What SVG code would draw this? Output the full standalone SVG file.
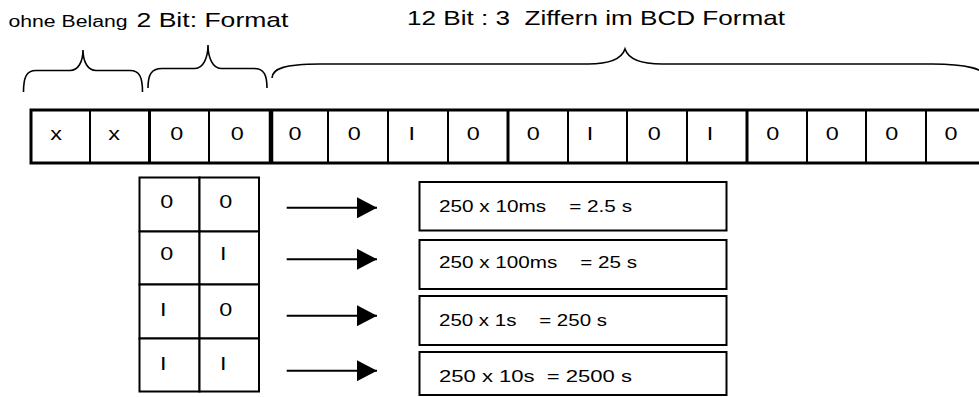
<svg xmlns="http://www.w3.org/2000/svg" width="979" height="397" viewBox="0 0 979 397">
<defs>
<style>
text{font-family:"Liberation Sans",Arial,sans-serif;fill:#000;white-space:pre}
.c{font-size:18px;text-anchor:middle}
.cell{fill:#fff;stroke:#000;stroke-width:2}
.box{fill:#fff;stroke:#000;stroke-width:2}
.brace{fill:none;stroke:#000;stroke-width:1.6}
.frame{fill:none;stroke:#000}
.arrow{stroke:#000;stroke-width:2;fill:none}
.res{font-size:16px}
</style>
<marker id="ah" markerUnits="userSpaceOnUse" markerWidth="20" markerHeight="21" refX="20" refY="10.5" orient="auto">
<path d="M0,0 L20,10.5 L0,21 Z" fill="#000"/>
</marker>
</defs>
<rect width="979" height="397" fill="#fff"/>

<g id="header-ohne-belang">
<text x="8.5" y="27" font-size="16" textLength="119" lengthAdjust="spacingAndGlyphs">ohne Belang</text>
<path class="brace" d="M23.5,92 C23.5,78 26,70.5 36,70.5 L70,70.5 C78,70.5 83,62 83,50 C83,62 88,70.5 96,70.5 L130,70.5 C140,70.5 142.5,78 142.5,92"/>
</g>
<g id="header-format">
<text x="136.5" y="27" font-size="21" textLength="152" lengthAdjust="spacingAndGlyphs">2 Bit: Format</text>
<path class="brace" d="M148,88 C148,75 151,68.5 162,68.5 L195,68.5 C203,68.5 208,58 208,45 C208,58 213,68.5 221,68.5 L254,68.5 C264,68.5 267,75 267,88"/>
</g>
<g id="header-bcd">
<text x="407" y="25" font-size="21" textLength="378" lengthAdjust="spacingAndGlyphs">12 Bit : 3  Ziffern im BCD Format</text>
<path class="brace" d="M272,78 C272,69 284,64 320,64 L588,64 C612,64 622,58 625,49 C628,58 638,64 662,64 L932,64 C966,64 986,69 986,78"/>
</g>

<g id="bit-row">
<g id="bit-15"><rect class="cell" x="31" y="110" width="59" height="53"/><text class="c" x="56" y="140" textLength="11.7" lengthAdjust="spacingAndGlyphs">x</text></g>
<g id="bit-14"><rect class="cell" x="90" y="110" width="59.5" height="53"/><text class="c" x="114" y="140" textLength="11.7" lengthAdjust="spacingAndGlyphs">x</text></g>
<g id="bit-13"><rect class="cell" x="149.5" y="110" width="59.5" height="53"/><text class="c" x="176.7" y="140" textLength="13" lengthAdjust="spacingAndGlyphs">0</text></g>
<g id="bit-12"><rect class="cell" x="209" y="110" width="62" height="53"/><text class="c" x="237.3" y="140" textLength="13" lengthAdjust="spacingAndGlyphs">0</text></g>
<g id="bit-11"><rect class="cell" x="271" y="110" width="57" height="53"/><text class="c" x="295" y="140" textLength="13" lengthAdjust="spacingAndGlyphs">0</text></g>
<g id="bit-10"><rect class="cell" x="328" y="110" width="60" height="53"/><text class="c" x="354.3" y="140" textLength="13" lengthAdjust="spacingAndGlyphs">0</text></g>
<g id="bit-9"><rect class="cell" x="388" y="110" width="60" height="53"/><text class="c" x="411.7" y="140" textLength="6.5" lengthAdjust="spacingAndGlyphs">I</text></g>
<g id="bit-8"><rect class="cell" x="448" y="110" width="60" height="53"/><text class="c" x="473.3" y="140" textLength="13" lengthAdjust="spacingAndGlyphs">0</text></g>
<g id="bit-7"><rect class="cell" x="508" y="110" width="60" height="53"/><text class="c" x="533.3" y="140" textLength="13" lengthAdjust="spacingAndGlyphs">0</text></g>
<g id="bit-6"><rect class="cell" x="568" y="110" width="59" height="53"/><text class="c" x="590" y="140" textLength="6.5" lengthAdjust="spacingAndGlyphs">I</text></g>
<g id="bit-5"><rect class="cell" x="627" y="110" width="60" height="53"/><text class="c" x="654.3" y="140" textLength="13" lengthAdjust="spacingAndGlyphs">0</text></g>
<g id="bit-4"><rect class="cell" x="687" y="110" width="60" height="53"/><text class="c" x="710" y="140" textLength="6.5" lengthAdjust="spacingAndGlyphs">I</text></g>
<g id="bit-3"><rect class="cell" x="747" y="110" width="60" height="53"/><text class="c" x="772.7" y="140" textLength="13" lengthAdjust="spacingAndGlyphs">0</text></g>
<g id="bit-2"><rect class="cell" x="807" y="110" width="59" height="53"/><text class="c" x="832.3" y="140" textLength="13" lengthAdjust="spacingAndGlyphs">0</text></g>
<g id="bit-1"><rect class="cell" x="866" y="110" width="60" height="53"/><text class="c" x="891.7" y="140" textLength="13" lengthAdjust="spacingAndGlyphs">0</text></g>
<g id="bit-0"><rect class="cell" x="926" y="110" width="60" height="53"/><text class="c" x="951" y="140" textLength="13" lengthAdjust="spacingAndGlyphs">0</text></g>
<g id="bit-row-frame">
<rect class="frame" x="31" y="110" width="960" height="53" stroke-width="3"/>
<line class="frame" x1="149.5" y1="110" x2="149.5" y2="163" stroke-width="3"/>
<line class="frame" x1="271" y1="110" x2="271" y2="163" stroke-width="4.5"/>
<line class="frame" x1="508" y1="110" x2="508" y2="163" stroke-width="3"/>
<line class="frame" x1="747" y1="110" x2="747" y2="163" stroke-width="3"/>
</g>
</g>

<g id="format-table">
<g id="fmt-00"><rect class="cell" x="139.5" y="177.5" width="60" height="54"/><rect class="cell" x="199.5" y="177.5" width="59.5" height="54"/>
<text class="c" x="166.7" y="207.5" textLength="13" lengthAdjust="spacingAndGlyphs">0</text><text class="c" x="225.7" y="207.5" textLength="13" lengthAdjust="spacingAndGlyphs">0</text></g>
<g id="fmt-01"><rect class="cell" x="139.5" y="231.5" width="60" height="53"/><rect class="cell" x="199.5" y="231.5" width="59.5" height="53"/>
<text class="c" x="166.7" y="259.5" textLength="13" lengthAdjust="spacingAndGlyphs">0</text><text class="c" x="223.3" y="259.5" textLength="6.5" lengthAdjust="spacingAndGlyphs">I</text></g>
<g id="fmt-10"><rect class="cell" x="139.5" y="284.5" width="60" height="54"/><rect class="cell" x="199.5" y="284.5" width="59.5" height="54"/>
<text class="c" x="163.3" y="315.7" textLength="6.5" lengthAdjust="spacingAndGlyphs">I</text><text class="c" x="225.7" y="315.7" textLength="13" lengthAdjust="spacingAndGlyphs">0</text></g>
<g id="fmt-11"><rect class="cell" x="139.5" y="338.5" width="60" height="53"/><rect class="cell" x="199.5" y="338.5" width="59.5" height="53"/>
<text class="c" x="163.3" y="370" textLength="6.5" lengthAdjust="spacingAndGlyphs">I</text><text class="c" x="223.3" y="370" textLength="6.5" lengthAdjust="spacingAndGlyphs">I</text></g>
</g>

<g id="result-10ms"><rect class="box" x="419.5" y="182" width="307" height="48.5"/>
<text class="res" x="439" y="212" textLength="193" lengthAdjust="spacingAndGlyphs">250 x 10ms    = 2.5 s</text></g>
<g id="result-100ms"><rect class="box" x="419.5" y="240" width="307" height="49"/>
<text class="res" x="439" y="268.3" textLength="198" lengthAdjust="spacingAndGlyphs">250 x 100ms    = 25 s</text></g>
<g id="result-1s"><rect class="box" x="419.5" y="296" width="307" height="49"/>
<text class="res" x="439" y="325.7" textLength="168" lengthAdjust="spacingAndGlyphs">250 x 1s    = 250 s</text></g>
<g id="result-10s"><rect class="box" x="419.5" y="352" width="307" height="43"/>
<text class="res" x="439" y="381.7" textLength="193" lengthAdjust="spacingAndGlyphs">250 x 10s  = 2500 s</text></g>

<g id="connectors">
<line class="arrow" x1="286.7" y1="207.8" x2="377" y2="207.8" marker-end="url(#ah)"/>
<line class="arrow" x1="286.7" y1="259.3" x2="377" y2="259.3" marker-end="url(#ah)"/>
<line class="arrow" x1="286.7" y1="315.7" x2="377" y2="315.7" marker-end="url(#ah)"/>
<line class="arrow" x1="286.7" y1="370.7" x2="377" y2="370.7" marker-end="url(#ah)"/>
</g>
</svg>
